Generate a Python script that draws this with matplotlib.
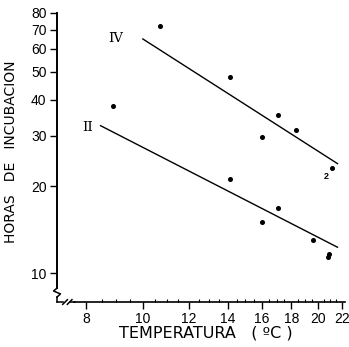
import matplotlib
matplotlib.use('Agg')
import matplotlib.pyplot as plt
from matplotlib.ticker import FixedLocator, NullFormatter, FixedFormatter

# ---- data ----
stage_iv_temp = [10.7, 14.1, 16.0, 17.1, 18.3, 21.1]
stage_iv_hours = [72.0, 48.0, 29.8, 35.5, 31.5, 23.1]
stage_ii_temp = [8.9, 14.1, 16.0, 17.1, 19.6, 20.8, 20.85]
stage_ii_hours = [38.0, 21.3, 15.0, 16.8, 13.0, 11.4, 11.7]
fit_iv_temp = [10.0, 21.6]
fit_iv_hours = [65.0, 24.0]
fit_ii_temp = [8.46, 21.6]
fit_ii_hours = [32.5, 12.3]
x_ticks = [8, 10, 12, 14, 16, 18, 20, 22]
x_minor = [8.5, 9, 9.5, 10.5, 11, 11.5, 12.5, 13, 13.5, 14.5, 15, 15.5,
           16.5, 17, 17.5, 18.5, 19, 19.5, 20.5, 21, 21.5]
y_ticks = [10, 20, 30, 40, 50, 60, 70, 80]
line_labels = ["IV", "II"]
label_pos = [(9.0, 65.0), (8.03, 32.0)]

plt.rcParams['font.family'] = ['Liberation Sans', 'DejaVu Sans']

fig = plt.figure(figsize=(3.49, 3.47), dpi=100)
ax = fig.add_axes([57/349, 1 - 302/347, 288/349, 289/347])

ax.set_xscale('log')
ax.set_yscale('log')
ax.set_xlim(7.12, 22.25)
ax.set_ylim(7.94, 80)

ax.plot(fit_iv_temp, fit_iv_hours, color='black', lw=1.0)
ax.plot(fit_ii_temp, fit_ii_hours, color='black', lw=1.0)
ax.plot(stage_iv_temp, stage_iv_hours, 'o', color='black', ms=2.6)
ax.plot(stage_ii_temp, stage_ii_hours, 'o', color='black', ms=2.6)

for lab, (lx, ly) in zip(line_labels, label_pos):
    ax.text(lx, ly, lab, fontsize=9.5, family='DejaVu Serif', ha='center',
            va='center', color='black')
ax.text(20.7, 21.6, "2", fontsize=6.5, ha='center', va='center',
        fontweight='bold')

ax.xaxis.set_major_locator(FixedLocator(x_ticks))
ax.xaxis.set_major_formatter(FixedFormatter([str(v) for v in x_ticks]))
ax.xaxis.set_minor_locator(FixedLocator(x_minor))
ax.xaxis.set_minor_formatter(NullFormatter())
ax.yaxis.set_major_locator(FixedLocator(y_ticks))
ax.yaxis.set_major_formatter(FixedFormatter([str(v) for v in y_ticks]))
ax.yaxis.set_minor_locator(FixedLocator([]))

ax.tick_params(axis='both', which='major', length=5, width=1.0,
               labelsize=10, pad=2.5, colors='black')
ax.tick_params(axis='x', which='minor', length=2.5, width=0.8, direction='in')

for s in ['top', 'right']:
    ax.spines[s].set_visible(False)
ax.spines['left'].set_linewidth(1.4)
ax.spines['bottom'].set_linewidth(1.2)
ax.spines['left'].set_bounds(8.87, 80)
ax.spines['bottom'].set_bounds(7.63, 22.25)

# axis break decorations (axes coords)
kw = dict(transform=ax.transAxes, color='black', lw=1.1, clip_on=False)
ax.plot([0, 0], [0, 0.017], **kw)
ax.plot([0, -0.012, 0.012, 0], [0.048, 0.038, 0.028, 0.017], **kw)
ax.plot([0, 0.02], [0, 0], **kw)
ax.plot([0.02, 0.036], [-0.008, 0.008], **kw)
ax.plot([0.036, 0.052], [-0.008, 0.008], **kw)
ax.plot([0.044, 0.0625], [0, 0], **kw)

ax.set_xlabel("TEMPERATURA   ( ºC )", fontsize=11.5, family='DejaVu Sans',
              labelpad=1)
ax.xaxis.set_label_coords(0.515, -0.08)
ax.set_ylabel("HORAS   DE   INCUBACION", fontsize=10, family='DejaVu Sans',
              labelpad=8)
ax.yaxis.set_label_coords(-0.135, 0.52)

fig.savefig('out.png', dpi=100, facecolor='white')
